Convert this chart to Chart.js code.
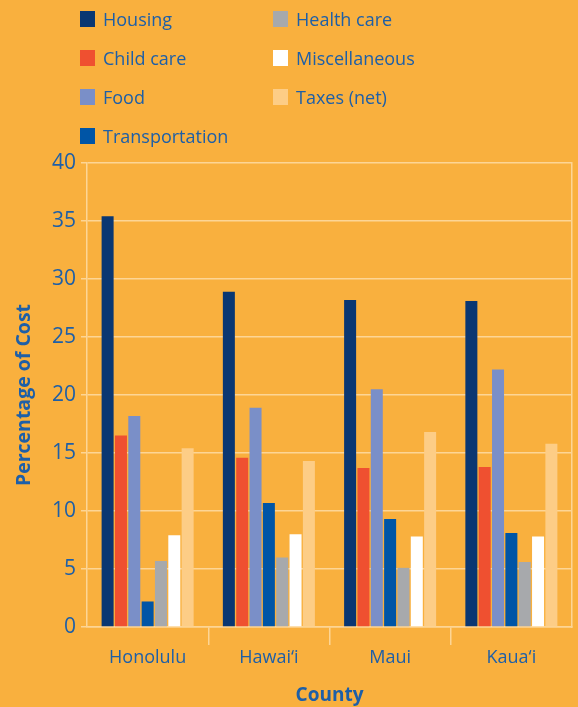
<!DOCTYPE html>
<html>
<head>
<meta charset="utf-8">
<script src="https://cdn.jsdelivr.net/npm/chart.js@4/dist/chart.umd.min.js"></script>
<style>
    html, body { margin: 0; padding: 0; background: #f9b03e; }
    #wrap { position: relative; width: 578px; height: 707px; }
    #costChart { position: absolute; left: 0; top: 0; }
    #legend { position: absolute; left: 0; top: 0; width: 578px; height: 160px; }
    .leg-item { position: absolute; display: flex; align-items: center; font-family: "Open Sans", sans-serif; font-size: 18px; color: #1d5fa8; white-space: nowrap; }
    .leg-box { width: 15px; height: 16px; margin-right: 8px; }
</style>
</head>
<body>
<div id="wrap">
    <canvas id="costChart" width="578" height="707"></canvas>
    <div id="legend"></div>
</div>
<script>
// categories and values (percentage of cost)
const counties = ['Honolulu', 'Hawai\u2018i', 'Maui', 'Kaua\u2018i'];
const housing = [35.4, 28.9, 28.2, 28.1];
const childCare = [16.5, 14.6, 13.7, 13.8];
const food = [18.2, 18.9, 20.5, 22.2];
const transportation = [2.2, 10.7, 9.3, 8.1];
const healthCare = [5.7, 6.0, 5.1, 5.6];
const miscellaneous = [7.9, 8.0, 7.8, 7.8];
const taxesNet = [15.4, 14.3, 16.8, 15.8];
const yTicks = [0, 5, 10, 15, 20, 25, 30, 35, 40];

const TEXT = '#1d5fa8';
const GRID = '#fdd595';

const seriesList = [
    { label: 'Housing', data: housing, color: '#0a3772' },
    { label: 'Child care', data: childCare, color: '#ef5030' },
    { label: 'Food', data: food, color: '#7a8fc8' },
    { label: 'Transportation', data: transportation, color: '#0055a6' },
    { label: 'Health care', data: healthCare, color: '#a7a9ac' },
    { label: 'Miscellaneous', data: miscellaneous, color: '#ffffff' },
    { label: 'Taxes (net)', data: taxesNet, color: '#fdcd86' }
];

//////////////////////////////////////////////
// Chart
//////////////////////////////////////////////
const ctx = document.getElementById('costChart').getContext('2d');
const costChart = new Chart(ctx, {
    type: 'bar',
    data: {
        labels: counties,
        datasets: seriesList.map(s => ({
            label: s.label,
            data: s.data,
            backgroundColor: s.color,
            borderWidth: 0,
            categoryPercentage: 0.77,
            barPercentage: 0.9
        }))
    },
    options: {
        responsive: false,
        animation: false,
        layout: { padding: { top: 163, right: 6, left: 0, bottom: 0 } },
        plugins: {
            legend: { display: false },
            tooltip: { enabled: false }
        },
        scales: {
            x: {
                grid: {
                    drawOnChartArea: false,
                    tickLength: 18,
                    lineWidth: 1.5,
                    color: c => (c.index > 0 && c.index < counties.length) ? GRID : 'rgba(0,0,0,0)'
                },
                border: { color: GRID, width: 1.5 },
                ticks: {
                    color: TEXT,
                    padding: 2,
                    font: { family: 'Open Sans', size: 18 }
                },
                title: {
                    display: true,
                    text: 'County',
                    color: TEXT,
                    padding: { top: 3, bottom: 0 },
                    font: { family: 'Open Sans', size: 19, weight: 'bold' }
                },
                afterFit: scale => { scale.height = 80; }
            },
            y: {
                min: 0,
                max: 40,
                afterBuildTicks: scale => { scale.ticks = yTicks.map(v => ({ value: v })); },
                grid: { color: GRID, lineWidth: 1.5, tickLength: 6 },
                border: { color: GRID, width: 1.5 },
                ticks: {
                    color: TEXT,
                    padding: 5,
                    font: { family: 'Open Sans', size: 21 }
                },
                title: {
                    display: true,
                    text: 'Percentage of Cost',
                    color: TEXT,
                    padding: { top: 13, bottom: 0 },
                    font: { family: 'Open Sans', size: 19.5, weight: 'bold' }
                },
                afterFit: scale => { scale.width = 87; }
            },
            yRight: {
                position: 'right',
                min: 0,
                max: 40,
                grid: { drawOnChartArea: false, drawTicks: false },
                border: { color: GRID, width: 1.5 },
                ticks: { display: false },
                afterFit: scale => { scale.width = 0; }
            }
        }
    }
});

//////////////////////////////////////////////
// Legend (two columns, built from datasets)
//////////////////////////////////////////////
const legendEl = document.getElementById('legend');
costChart.data.datasets.forEach((ds, i) => {
    const col = i < 4 ? 0 : 1;
    const row = i < 4 ? i : i - 4;
    const item = document.createElement('div');
    item.className = 'leg-item';
    item.style.left = (col === 0 ? 80 : 273) + 'px';
    item.style.top = (5 + row * 39) + 'px';
    item.style.height = '28px';
    const box = document.createElement('span');
    box.className = 'leg-box';
    box.style.background = ds.backgroundColor;
    const txt = document.createElement('span');
    txt.textContent = ds.label;
    item.appendChild(box);
    item.appendChild(txt);
    legendEl.appendChild(item);
});
</script>
</body>
</html>
